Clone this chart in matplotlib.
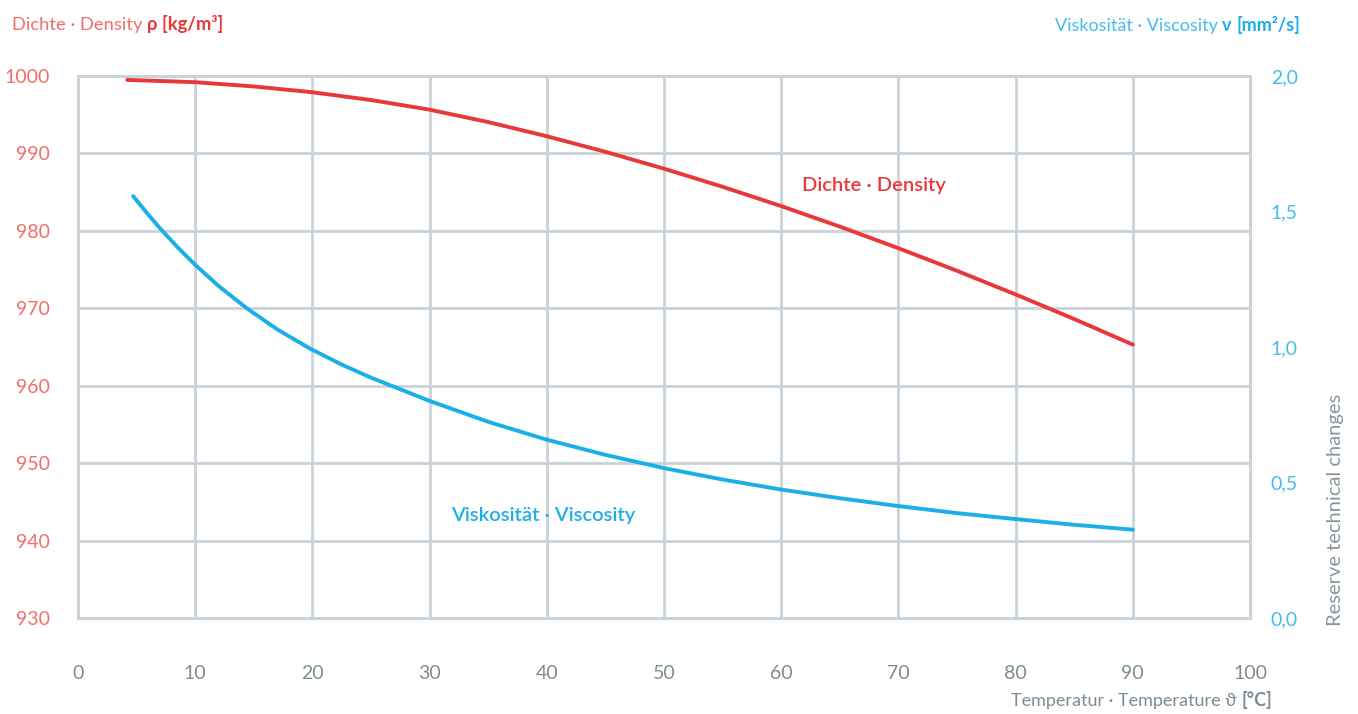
import matplotlib
matplotlib.use("Agg")
import matplotlib.pyplot as plt

# Data
temp_density = [4.2, 10, 15, 20, 25, 30, 35, 40, 45, 50, 55, 60, 65, 70, 75, 80, 85, 90]
density = [999.5, 999.2, 998.65, 997.9, 996.9, 995.65, 994.05, 992.22, 990.21,
           988.03, 985.69, 983.20, 980.55, 977.76, 974.84, 971.79, 968.61, 965.31]
temp_visc = [4.7, 6, 7.1, 8.5, 10, 12, 14.4, 17, 19.8, 22.5, 25, 30, 35, 40, 45, 50, 55, 60,
             65, 70, 75, 80, 85, 90]
viscosity = [1.557, 1.488, 1.433, 1.368, 1.303, 1.225, 1.143, 1.065, 0.994, 0.935, 0.887,
             0.801, 0.724, 0.658, 0.602, 0.553, 0.511, 0.474, 0.442, 0.413, 0.387, 0.365,
             0.344, 0.326]
x_ticks = [0, 10, 20, 30, 40, 50, 60, 70, 80, 90, 100]
left_ticks = [930, 940, 950, 960, 970, 980, 990, 1000]
right_ticks = [0.0, 0.5, 1.0, 1.5, 2.0]
right_labels = ["0,0", "0,5", "1,0", "1,5", "2,0"]

RED = "#E8383A"
RED_TXT = "#F26E6A"
BLUE = "#1AAFE6"
BLUE_TXT = "#45BDE8"
GRID = "#CAD2DA"
GRAY = "#7C8C96"
FAM = ["Lato", "DejaVu Sans"]

plt.rcParams["font.family"] = FAM

fig = plt.figure(figsize=(13.58, 7.14), dpi=100)
ax = fig.add_axes([78/1358, 1-618/714, (1250-78)/1358, (618-76)/714])
ax2 = ax.twinx()

ax.plot(temp_density, density, color=RED, lw=2.8, solid_capstyle="round",
        solid_joinstyle="round", zorder=3)
ax2.plot(temp_visc, viscosity, color=BLUE, lw=2.8, solid_capstyle="round",
         solid_joinstyle="round", zorder=3)

ax.set_xlim(0, 100)
ax.set_ylim(930, 1000)
ax2.set_ylim(0, 2.0)

ax.set_xticks(x_ticks)
ax.set_xticklabels([str(v) for v in x_ticks], color=GRAY, fontsize=14)
ax.set_yticks(left_ticks)
ax.set_yticklabels([str(v) for v in left_ticks], color=RED_TXT, fontsize=14)
ax2.set_yticks(right_ticks)
ax2.set_yticklabels(right_labels, color=BLUE_TXT, fontsize=14)

ax.tick_params(axis="both", length=0)
ax.tick_params(axis="x", pad=34)
ax.tick_params(axis="y", pad=20)
ax2.tick_params(axis="y", length=0, pad=15)

ax.grid(True, color=GRID, lw=2)
for a in (ax, ax2):
    for s in a.spines.values():
        s.set_color(GRID)
        s.set_linewidth(2)
ax.set_axisbelow(True)

# Axis titles
t1 = fig.text(12/1358, 1-25/714, "Dichte · Density ", color=RED_TXT, fontsize=13.2, va="center", ha="left")
ax.annotate("ρ [kg/m³]", xy=(1, 0), xycoords=t1, va="bottom", ha="left",
            color=RED, fontsize=13.2, fontweight="bold")

t2 = fig.text(1300/1358, 1-25/714, "[mm²/s]", color=BLUE, fontsize=13, va="center", ha="right",
              fontweight="bold")
t3 = ax.annotate("ν ", xy=(0, 0), xycoords=t2, va="bottom", ha="right",
                 color=BLUE, fontsize=13, fontweight="bold")
ax.annotate("Viskosität · Viscosity ", xy=(0, 0), xycoords=t3, va="bottom", ha="right",
            color=BLUE_TXT, fontsize=13)

t4 = fig.text(1272/1358, 1-700/714, "[°C]", color=GRAY, fontsize=13, va="center", ha="right",
              fontweight="bold")
ax.annotate("Temperatur · Temperature ϑ ", xy=(0, 0), xycoords=t4, va="bottom", ha="right",
            color=GRAY, fontsize=13)

fig.text(1335/1358, 1-510/714, "Reserve technical changes", color="#8A969E", fontsize=14.5,
         rotation=90, ha="center", va="center")

# Curve labels
ax.text(61.8, 985.9, "Dichte · Density", color=RED, fontsize=14.5, fontweight="semibold",
        ha="left", va="center")
ax2.text(31.8, 0.38, "Viskosität · Viscosity", color=BLUE, fontsize=14.5, fontweight="semibold",
         ha="left", va="center")

fig.savefig("out.png", dpi=100)
